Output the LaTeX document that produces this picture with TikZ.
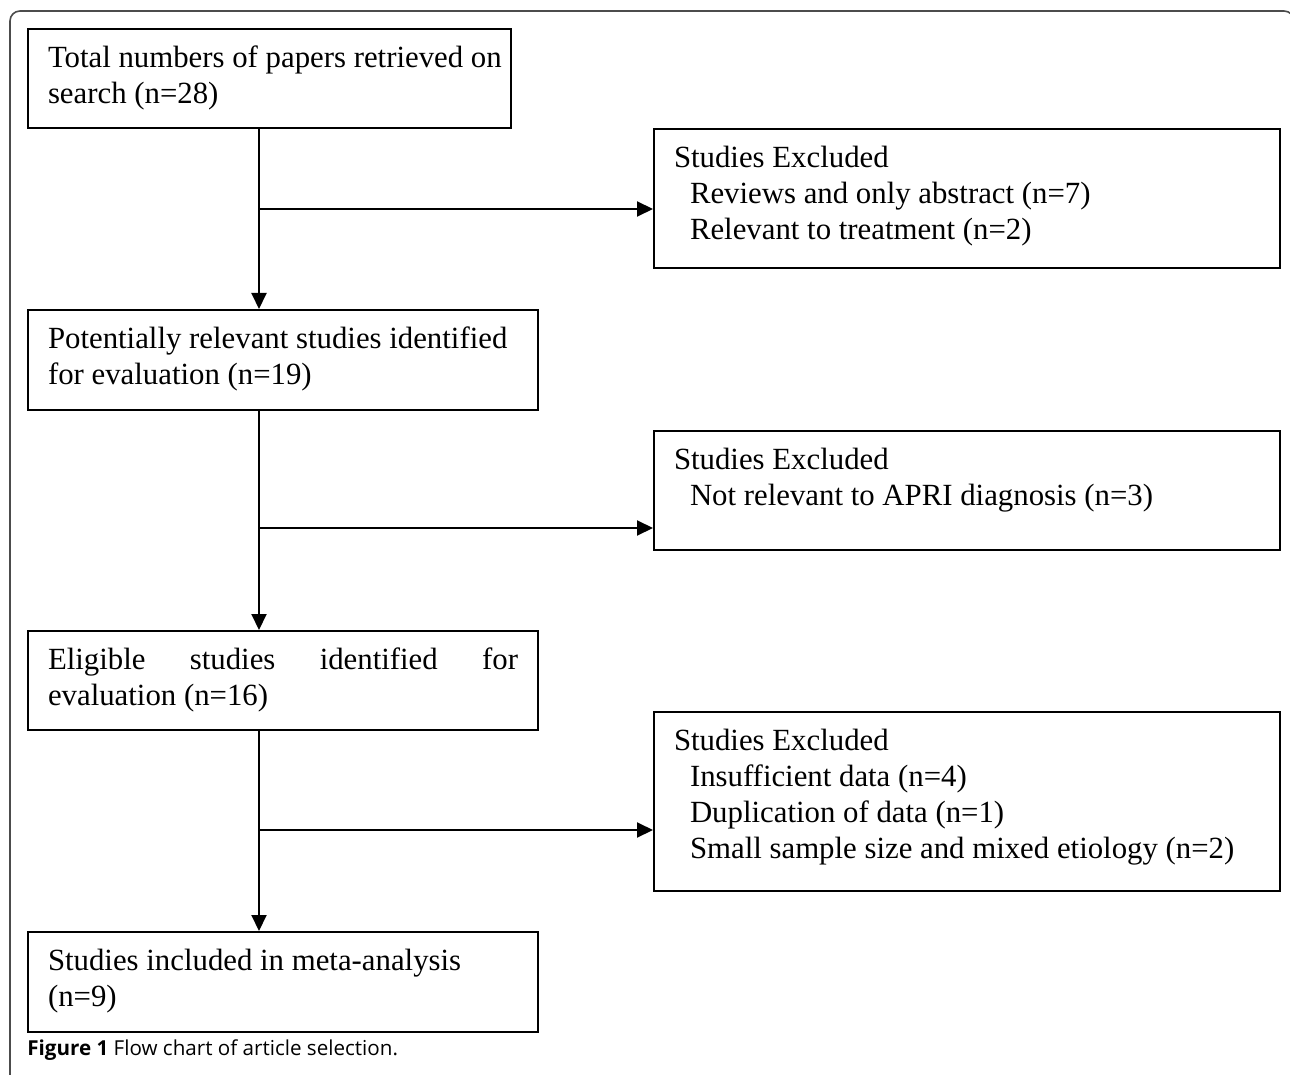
\documentclass[tikz,border=0pt]{standalone}
\usepackage{fontspec}
\setmainfont{Liberation Serif}
\newfontfamily\capfont{Open Sans}
\usetikzlibrary{arrows.meta,positioning}

% top aligned text of a box: width, height, lines
\newcommand{\boxtext}[3]{\parbox[c][#2][t]{#1}{\raggedright #3}}

\tikzset{
  flowbox/.style={draw, line width=1pt, anchor=north west, inner xsep=10pt, inner ysep=8.5pt,
    font=\fontsize{15.4pt}{18pt}\selectfont},
  arr/.style={line width=1pt, -{Triangle[length=8pt,width=7.5pt]}},
  frame/.style={draw=black!70, line width=0.8pt, rounded corners=5pt}
}

\begin{document}
\begin{tikzpicture}[x=0.5pt, y=-0.5pt]
	\useasboundingbox (0,0) rectangle (1290,1075);
	\draw[frame] (10,1075) -- (10,11) -- (1294,11) -- (1294,1075);

	% left column
	\node[flowbox] (tot) at (27,28) {\boxtext{221.5pt}{32.5pt}{\mbox{Total numbers of papers retrieved on}\\ search (n=28)}};
	\node[flowbox] (pot) at (27,309) {\boxtext{235pt}{33pt}{Potentially relevant studies identified\\ for evaluation (n=19)}};
	\node[flowbox] (elig) at (27,630) {\boxtext{235pt}{32.5pt}{\hbox to \linewidth{Eligible\hfill studies\hfill identified\hfill for}evaluation (n=16)}};
	\node[flowbox] (incl) at (27,931) {\boxtext{235pt}{33pt}{Studies included in meta-analysis\\ (n=9)}};

	% right column
	\node[flowbox] (ex1) at (653,128) {\boxtext{293pt}{52.5pt}{Studies Excluded\\ \hspace*{8pt}Reviews and only abstract (n=7)\\ \hspace*{8pt}Relevant to treatment (n=2)}};
	\node[flowbox] (ex2) at (653,430) {\boxtext{293pt}{42.5pt}{Studies Excluded\\ \hspace*{8pt}Not relevant to APRI diagnosis (n=3)}};
	\node[flowbox] (ex3) at (653,711) {\boxtext{293pt}{72.5pt}{Studies Excluded\\ \hspace*{8pt}Insufficient data (n=4)\\ \hspace*{8pt}Duplication of data (n=1)\\ \hspace*{8pt}Small sample size and mixed etiology (n=2)}};

	% spine and branches
	\coordinate (spine) at (259,0);
	\coordinate (b1) at (259,209);
	\coordinate (b2) at (259,528);
	\coordinate (b3) at (259,830);
	\draw[arr] (tot.south -| spine) -- (pot.north -| spine);
	\draw[arr] (pot.south -| spine) -- (elig.north -| spine);
	\draw[arr] (elig.south -| spine) -- (incl.north -| spine);
	\draw[arr] (b1) -- (b1 -| ex1.west);
	\draw[arr] (b2) -- (b2 -| ex2.west);
	\draw[arr] (b3) -- (b3 -| ex3.west);

	\node[anchor=base west, inner sep=0pt, font=\capfont\fontsize{10.3pt}{12pt}\selectfont] (cap) at (27,1055) {\textbf{Figure 1} Flow chart of article selection.};
\end{tikzpicture}
\end{document}
